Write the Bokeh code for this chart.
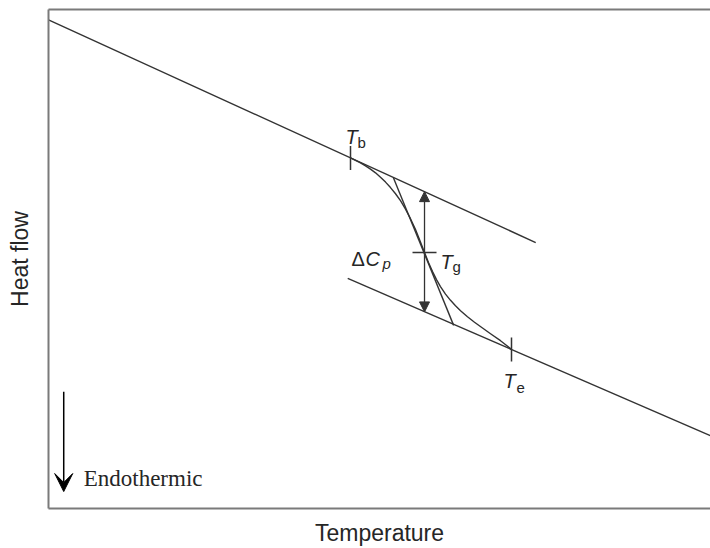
from bokeh.plotting import figure
from bokeh.models import Range1d, FixedTicker, LinearAxis, Arrow, NormalHead, VeeHead, Label
from bokeh.embed import file_html
from bokeh.resources import INLINE

# ---- data (arbitrary units: temperature 0-100, heat flow 0-100) ----
glass_baseline_x = [0.0, 73.6]
glass_baseline_y = [97.9, 53.3]
liquid_baseline_x = [45.2, 100.0]
liquid_baseline_y = [46.1, 14.6]
transition_x = [45.62, 46.37, 47.13, 47.89, 48.64, 49.40, 50.15, 50.91, 51.66,
                52.42, 53.17, 53.93, 54.68, 55.44, 56.19, 56.80,
                57.40, 58.01, 58.61, 59.21, 59.97, 60.73, 61.48, 62.24,
                63.29, 64.35, 65.56, 66.77, 68.28, 69.94]
transition_y = [70.26, 69.78, 69.26, 68.66, 68.00, 67.27, 66.39, 65.41, 64.31,
                63.07, 61.68, 59.98, 58.08, 55.89, 53.39, 51.30,
                49.30, 47.47, 45.87, 44.47, 42.97, 41.72, 40.62, 39.64,
                38.42, 37.33, 36.17, 35.03, 33.63, 31.88]
tangent_x = [52.1, 61.2]
tangent_y = [66.3, 36.7]
T_b = (45.62, 70.26)
T_g = (56.8, 51.3)
T_e = (69.94, 31.88)
delta_cp_y = [63.5, 39.4]
endo_x = 2.3
endo_y = [23.4, 3.4]

LINE = "#333333"
FRAME = "#7a7a7a"
TEXT = "#262626"
SANS = "Liberation Sans"

p = figure(width=710, height=548, output_backend="svg", toolbar_location=None,
           x_range=Range1d(0, 100), y_range=Range1d(0, 100),
           min_border_left=48, min_border_right=0, min_border_top=9, min_border_bottom=38,
           background_fill_color="white", border_fill_color="white")
p.outline_line_color = None
p.grid.visible = False

for ax in [p.xaxis[0], p.yaxis[0]]:
    ax.ticker = FixedTicker(ticks=[])
    ax.major_tick_line_color = None
    ax.minor_tick_line_color = None
    ax.major_tick_out = 0
    ax.major_tick_in = 0
    ax.major_label_standoff = 0
    ax.axis_line_color = FRAME
    ax.axis_line_width = 2
    ax.axis_label_text_font = SANS
    ax.axis_label_text_font_style = "normal"
    ax.axis_label_text_font_size = "23px"
    ax.axis_label_text_color = TEXT
p.xaxis.axis_label = "Temperature"
p.yaxis.axis_label = "Heat flow"
p.xaxis.axis_label_standoff = 11
p.yaxis.axis_label_standoff = 16

top = LinearAxis(ticker=FixedTicker(ticks=[]), major_tick_line_color=None,
                 minor_tick_line_color=None, major_tick_out=0, major_tick_in=0,
                 major_label_standoff=0, axis_line_color=FRAME, axis_line_width=2)
p.add_layout(top, "above")

# baselines, transition curve, tangent
p.line(glass_baseline_x, glass_baseline_y, line_color=LINE, line_width=1.4)
p.line(liquid_baseline_x, liquid_baseline_y, line_color=LINE, line_width=1.4)
p.line(transition_x, transition_y, line_color=LINE, line_width=1.4, line_join="round")
p.line(tangent_x, tangent_y, line_color=LINE, line_width=1.4)

# tick marks at Tb, Te (vertical) and Tg (horizontal)
p.scatter([T_b[0], T_e[0]], [T_b[1], T_e[1]], marker="dash", angle=1.5708,
          size=24, line_color=LINE, line_width=1.5)
p.scatter([T_g[0]], [T_g[1]], marker="dash", size=24, line_color=LINE, line_width=1.5)

# delta Cp double arrow
p.add_layout(Arrow(x_start=T_g[0], y_start=delta_cp_y[0], x_end=T_g[0], y_end=delta_cp_y[1],
                   start=NormalHead(size=10, fill_color=LINE, line_color=LINE),
                   end=NormalHead(size=10, fill_color=LINE, line_color=LINE),
                   line_color=LINE, line_width=1.3))

# endothermic arrow
p.add_layout(Arrow(x_start=endo_x, y_start=endo_y[0], x_end=endo_x, y_end=endo_y[1],
                   end=VeeHead(size=18, fill_color="black", line_color="black"),
                   line_color="black", line_width=1.5))


def lab(pt, dx, dy, text, size, style="normal", font=SANS):
    p.add_layout(Label(x=pt[0], y=pt[1], x_offset=dx, y_offset=dy, text=text,
                       text_font=font, text_font_size=size, text_font_style=style,
                       text_color=TEXT, text_align="left", text_baseline="alphabetic"))


lab(T_b, -5, 21, "T", "20px", "italic")
lab(T_b, 7, 15, "b", "15px")
lab(T_g, 16, -9, "T", "20px", "italic")
lab(T_g, 28, -14, "g", "15px")
lab(T_e, -8, -32, "T", "20px", "italic")
lab(T_e, 5, -39, "e", "15px")
lab(T_g, -73, -6, "\u0394", "20px")
lab(T_g, -59, -6, "C", "20px", "italic")
lab(T_g, -42, -11, "p", "15px", "italic")
lab((endo_x, endo_y[1]), 20, 13, "Endothermic", "23px", "normal", "Liberation Serif")

open("out.html", "w").write(file_html(p, INLINE))
